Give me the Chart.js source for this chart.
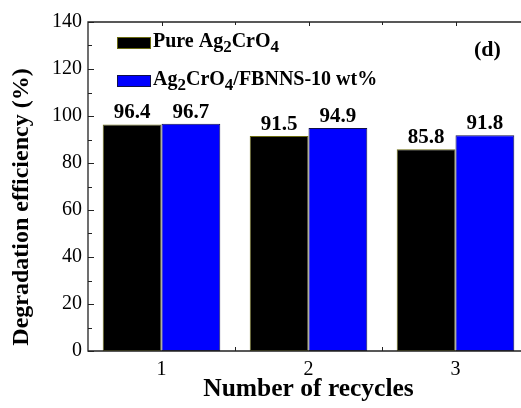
<!DOCTYPE html>
<html>
<head>
<meta charset="utf-8">
<script src="https://cdn.jsdelivr.net/npm/chart.js@4"></script>
<style>
  html, body { margin: 0; padding: 0; background: #fff; overflow: hidden; }
  #wrap { position: absolute; left: 0; top: 0; width: 530px; height: 408px; }
</style>
</head>
<body>
<div id="wrap"><canvas id="chart" width="530" height="408"></canvas></div>
<script>
const recycles = ["1", "2", "3"];
const pureValues = [96.4, 91.5, 85.8];
const compositeValues = [96.7, 94.9, 91.8];
const seriesNames = ["Pure Ag\u2082CrO\u2084", "Ag\u2082CrO\u2084/FBNNS-10 wt%"];
// legend text split into normal / subscript pieces
const legendParts = [
    [["Pure Ag", false], ["2", true], ["CrO", false], ["4", true]],
    [["Ag", false], ["2", true], ["CrO", false], ["4", true], ["/FBNNS-10 wt%", false]]
];
const yTicks = [0, 20, 40, 60, 80, 100, 120, 140];

const serif = "'Liberation Serif', 'Times New Roman', serif";

// frame, inward ticks, value labels, legend and panel letter
const decorations = {
    id: "decorations",
    afterDatasetsDraw(chart) {
        const ctx = chart.ctx;
        const area = chart.chartArea;
        const x = chart.scales.x;
        const y = chart.scales.y;
        ctx.save();

        // value labels above bars
        ctx.fillStyle = "#000";
        ctx.font = "bold 21px " + serif;
        ctx.textAlign = "center";
        ctx.textBaseline = "alphabetic";
        chart.data.datasets.forEach((ds, i) => {
            chart.getDatasetMeta(i).data.forEach((bar, j) => {
                ctx.fillText(ds.data[j].toFixed(1), bar.x, bar.y - 6);
            });
        });

        // frame
        ctx.strokeStyle = "#222";
        ctx.lineWidth = 1.3;
        ctx.beginPath();
        ctx.moveTo(area.right + 5, area.top);
        ctx.lineTo(area.left, area.top);
        ctx.lineTo(area.left, area.bottom);
        ctx.lineTo(area.right + 5, area.bottom);
        ctx.stroke();

        // y ticks pointing inward
        ctx.lineWidth = 1;
        ctx.beginPath();
        for (let v = 0; v <= 140; v += 10) {
            const py = Math.round(y.getPixelForValue(v)) + 0.5;
            const len = v % 20 === 0 ? 6 : 4;
            ctx.moveTo(area.left, py);
            ctx.lineTo(area.left + len, py);
        }
        // top and bottom ticks at categories and between them
        for (let k = 0; k < recycles.length; k++) {
            const c = x.getPixelForValue(k);
            const m = x.getPixelForValue(k + 0.5);
            ctx.moveTo(Math.round(c) + 0.5, area.top);
            ctx.lineTo(Math.round(c) + 0.5, area.top + 4);
            ctx.moveTo(Math.round(m) + 0.5, area.top);
            ctx.lineTo(Math.round(m) + 0.5, area.top + 3);
            ctx.moveTo(Math.round(m) + 0.5, area.bottom);
            ctx.lineTo(Math.round(m) + 0.5, area.bottom - 4);
        }
        ctx.stroke();

        // legend
        const boxX = 117, boxW = 33, boxH = 11;
        const rows = [37, 75];
        chart.data.datasets.forEach((ds, i) => {
            const by = rows[i];
            ctx.fillStyle = ds.backgroundColor;
            ctx.fillRect(boxX, by, boxW, boxH);
            ctx.strokeStyle = ds.borderColor;
            ctx.lineWidth = 1;
            ctx.strokeRect(boxX + 0.5, by + 0.5, boxW, boxH);
            let tx = 153;
            const base = by + 10;
            ctx.fillStyle = "#000";
            ctx.textAlign = "left";
            legendParts[i].forEach(([txt, sub]) => {
                ctx.font = sub ? "bold 17px " + serif : "bold 20px " + serif;
                ctx.fillText(txt, tx, sub ? base + 5 : base);
                tx += ctx.measureText(txt).width;
            });
        });

        // panel letter
        ctx.font = "bold 22px " + serif;
        ctx.textAlign = "left";
        ctx.fillText("(d)", 474, 56);

        // y axis title
        ctx.translate(22, 207);
        ctx.rotate(-Math.PI / 2);
        ctx.textAlign = "center";
        ctx.textBaseline = "middle";
        ctx.font = "bold 24px " + serif;
        ctx.fillText("Degradation efficiency (%)", 0, 0);
        ctx.restore();
    }
};

new Chart(document.getElementById("chart").getContext("2d"), {
    type: "bar",
    data: {
        labels: recycles,
        datasets: [{
            label: seriesNames[0],
            data: pureValues,
            backgroundColor: "#000000",
            borderColor: "#6b6b10",
            borderWidth: 1,
            borderSkipped: false
        }, {
            label: seriesNames[1],
            data: compositeValues,
            backgroundColor: "#0000ff",
            borderColor: "#10104a",
            borderWidth: 1,
            borderSkipped: false
        }]
    },
    options: {
        responsive: false,
        animation: false,
        categoryPercentage: 0.8,
        barPercentage: 1.0,
        layout: { padding: { top: 22, right: 1, left: 0, bottom: 0 } },
        plugins: {
            legend: { display: false },
            tooltip: { enabled: false }
        },
        scales: {
            x: {
                grid: { display: false, drawTicks: false },
                border: { display: false },
                ticks: {
                    color: "#000",
                    font: { family: serif, size: 20 },
                    padding: 7
                },
                title: {
                    display: true,
                    text: "Number of recycles",
                    color: "#000",
                    font: { family: serif, size: 25.5, weight: "bold" },
                    padding: { top: 0, bottom: 3 }
                },
                afterFit(scale) { scale.height = 57; }
            },
            y: {
                min: 0,
                max: 140,
                afterBuildTicks(scale) {
                    scale.ticks = yTicks.map(v => ({ value: v }));
                },
                grid: { display: false, drawTicks: false },
                border: { display: false },
                ticks: {
                    color: "#000",
                    font: { family: serif, size: 20 },
                    padding: 6
                },
                afterFit(scale) { scale.width = 88; }
            }
        }
    },
    plugins: [decorations]
});
</script>
</body>
</html>
